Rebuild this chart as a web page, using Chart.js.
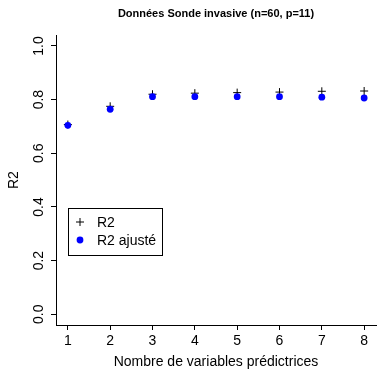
<!DOCTYPE html>
<html>
<head>
<meta charset="utf-8">
<script src="https://cdn.jsdelivr.net/npm/chart.js@4.4.1/dist/chart.umd.min.js"></script>
<style>
  html, body { margin: 0; padding: 0; background: #fff; }
  #wrap { width: 381px; height: 371px; }
</style>
</head>
<body>
<div id="wrap"><canvas id="R2Chart" width="381" height="371"></canvas></div>
<script>
// data
const nbVariables = [1, 2, 3, 4, 5, 6, 7, 8];
const r2Values = [0.707, 0.775, 0.820, 0.824, 0.826, 0.828, 0.831, 0.832];
const r2AjusteValues = [0.704, 0.764, 0.811, 0.811, 0.811, 0.811, 0.809, 0.806];
const xTicks = [1, 2, 3, 4, 5, 6, 7, 8];
const yTicks = [0.0, 0.2, 0.4, 0.6, 0.8, 1.0];

const FONT = "'Liberation Sans', Arial, Helvetica, sans-serif";

// white background
const whiteBg = {
    id: 'whiteBg',
    beforeDraw(chart) {
        const ctx = chart.ctx;
        ctx.save();
        ctx.fillStyle = '#fff';
        ctx.fillRect(0, 0, chart.width, chart.height);
        ctx.restore();
    }
};

// boxed legend inside the plot, like R's legend()
const boxLegend = {
    id: 'boxLegend',
    afterDraw(chart) {
        const ctx = chart.ctx;
        const x0 = 68, y0 = 208, w = 94, h = 47;
        ctx.save();
        ctx.strokeStyle = '#000';
        ctx.lineWidth = 1;
        ctx.strokeRect(x0 + 0.5, y0 + 0.5, w, h);
        const rows = [chart.data.datasets[0], chart.data.datasets[1]];
        rows.forEach((ds, i) => {
            const cy = y0 + 14 + i * 18;
            ctx.strokeStyle = ds.borderColor;
            ctx.fillStyle = ds.backgroundColor;
            ctx.lineWidth = ds.borderWidth;
            Chart.helpers.drawPoint(ctx, {
                pointStyle: ds.pointStyle,
                radius: ds.pointRadius,
                borderWidth: ds.borderWidth,
                rotation: 0
            }, x0 + 12, cy);
            ctx.fillStyle = '#000';
            ctx.font = '14px ' + FONT;
            ctx.textBaseline = 'middle';
            ctx.textAlign = 'left';
            ctx.fillText(ds.label, x0 + 29, cy + 1);
        });
        ctx.restore();
    }
};

const ctx_R2 = document.getElementById('R2Chart').getContext('2d');
new Chart(ctx_R2, {
    type: 'scatter',
    data: {
        datasets: [{
            label: 'R2',
            data: nbVariables.map((v, i) => ({ x: v, y: r2Values[i] })),
            pointStyle: 'cross',
            pointRadius: 4,
            borderColor: '#000',
            backgroundColor: '#000',
            borderWidth: 1,
            order: 1
        }, {
            label: 'R2 ajusté',
            data: nbVariables.map((v, i) => ({ x: v, y: r2AjusteValues[i] })),
            pointStyle: 'circle',
            pointRadius: 3.4,
            borderColor: '#0000ff',
            backgroundColor: '#0000ff',
            borderWidth: 0,
            order: 0
        }]
    },
    options: {
        responsive: false,
        animation: false,
        layout: { padding: { left: 0, right: 0, top: 0, bottom: 0 } },
        plugins: {
            legend: { display: false },
            tooltip: { enabled: false },
            title: {
                display: true,
                text: 'Données Sonde invasive (n=60, p=11)',
                fullSize: false,
                color: '#000',
                font: { family: FONT, size: 11, weight: 'bold' },
                padding: { top: 7, bottom: 15 }
            }
        },
        scales: {
            x: {
                type: 'linear',
                min: 0.72,
                max: 8.28,
                afterBuildTicks: scale => { scale.ticks = xTicks.map(v => ({ value: v })); },
                afterFit: scale => { scale.height = 46; },
                border: { display: true, color: '#000', width: 1 },
                grid: { drawOnChartArea: false, drawTicks: true, tickLength: 5, color: '#000' },
                ticks: {
                    color: '#000',
                    font: { family: FONT, size: 14 },
                    padding: 3,
                    maxRotation: 0,
                    autoSkip: false,
                    callback: v => String(v)
                },
                title: {
                    display: true,
                    text: 'Nombre de variables prédictrices',
                    color: '#000',
                    font: { family: FONT, size: 14 },
                    padding: { top: 0, bottom: 0 }
                }
            },
            y: {
                type: 'linear',
                min: -0.04,
                max: 1.04,
                afterBuildTicks: scale => { scale.ticks = yTicks.map(v => ({ value: v })); },
                afterFit: scale => { scale.width = 56; },
                border: { display: true, color: '#000', width: 1 },
                grid: { drawOnChartArea: false, drawTicks: true, tickLength: 5, color: '#000' },
                ticks: {
                    color: '#000',
                    font: { family: FONT, size: 14 },
                    padding: 2,
                    minRotation: 90,
                    maxRotation: 90,
                    crossAlign: 'center',
                    autoSkip: false,
                    callback: v => Number(v).toFixed(1)
                },
                title: {
                    display: true,
                    text: 'R2',
                    color: '#000',
                    font: { family: FONT, size: 14 },
                    padding: { top: 6, bottom: 0 }
                }
            }
        }
    },
    plugins: [whiteBg, boxLegend]
});
</script>
</body>
</html>
